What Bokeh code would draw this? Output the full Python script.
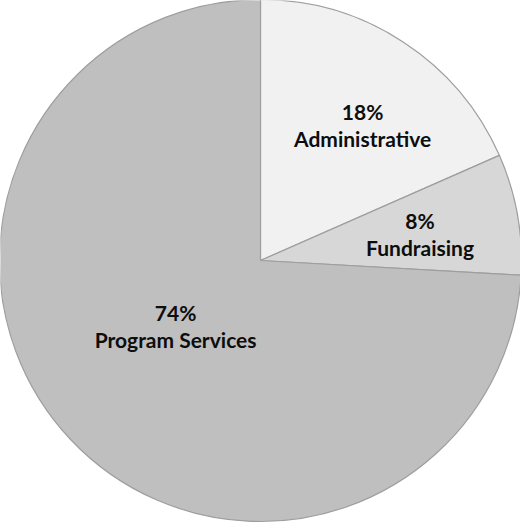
import math
from bokeh.plotting import figure
from bokeh.models import Range1d, ColumnDataSource
from bokeh.core.properties import value
from bokeh.embed import file_html
from bokeh.resources import INLINE

# ---- data ----
categories = ["Administrative", "Fundraising", "Program Services"]
shares = [18.4, 7.5, 74.1]
pct_labels = ["18%", "8%", "74%"]
colors = ["#f1f1f1", "#d7d7d7", "#bfbfbf"]

# label placement (polar: angle in degrees, fraction of radius)
label_angle = [53.0, 9.6, 217.5]
label_frac = [0.65, 0.62, 0.41]

W, H = 520, 523
cx, cy = 260, 263   # centre in plot units (1 unit = 1 px, y up)
R = 261

p = figure(width=W, height=H, output_backend="svg", toolbar_location=None,
           x_range=Range1d(0, W), y_range=Range1d(0, H),
           min_border=0, outline_line_color=None)
p.axis.visible = False
p.grid.visible = False
p.background_fill_color = "white"
p.border_fill_color = "white"

total = sum(shares)
starts, ends = [], []
cum = 0.0
for s in shares:
    a0 = math.pi / 2 - cum / total * 2 * math.pi
    cum += s
    a1 = math.pi / 2 - cum / total * 2 * math.pi
    starts.append(a0)
    ends.append(a1)

src = ColumnDataSource(dict(x=[cx] * 3, y=[cy] * 3, start=starts, end=ends,
                            color=colors, cat=categories))
p.wedge(x="x", y="y", radius=R, start_angle="start", end_angle="end",
        direction="clock", fill_color="color", line_color="#9e9e9e",
        line_width=1.2, source=src)

lx = [cx + f * R * math.cos(math.radians(a)) for a, f in zip(label_angle, label_frac)]
ly = [cy + f * R * math.sin(math.radians(a)) for a, f in zip(label_angle, label_frac)]
lsrc = ColumnDataSource(dict(x=lx, y=ly, pct=pct_labels, cat=categories))
common = dict(x="x", y="y", source=lsrc, text_font=value("Lato"),
              text_font_style="bold", text_font_size="21px",
              text_color="#0d0d0d", text_align="center", text_baseline="middle")
p.text(text="pct", y_offset=-13.5, **common)
p.text(text="cat", y_offset=13.5, **common)

open("out.html", "w").write(file_html(p, INLINE))
